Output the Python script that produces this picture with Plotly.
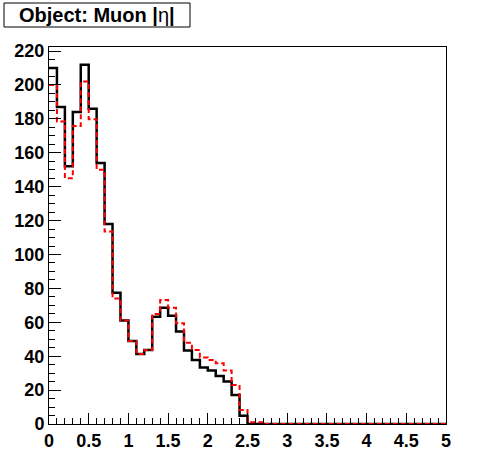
import plotly.graph_objects as go

bin_edges = [round(0.1 * i, 1) for i in range(51)]
black_vals = [210, 187, 152, 184, 212, 186, 154, 118, 77.5, 61,
              49, 41.3, 43.7, 63.3, 68.6, 63.9, 54.5, 43.3, 37.8, 33.4,
              31.5, 28.3, 25, 17.1, 4.9, 0, 0, 0, 0, 0,
              0, 0, 0, 0, 0, 0, 0, 0, 0, 0,
              0, 0, 0, 0, 0, 0, 0, 0, 0, 0]
red_vals = [200, 178.4, 145, 175.8, 202, 179.8, 150, 113.5, 74.1, 61,
            49, 41.3, 43.7, 64.9, 73.2, 68.6, 59.4, 48, 43.7, 39.3,
            37.8, 35.8, 31.5, 23, 8.3, 1, 1, 0, 0, 0,
            0, 0, 0, 0, 0, 0, 0, 0, 0, 0,
            0, 0, 0, 0, 0, 0, 0, 0, 0, 0]
x_tick_vals = [0, 0.5, 1, 1.5, 2, 2.5, 3, 3.5, 4, 4.5, 5]
x_tick_text = ["0", "0.5", "1", "1.5", "2", "2.5", "3", "3.5", "4", "4.5", "5"]
y_tick_vals = list(range(0, 221, 20))
title_text = "<b>Object: Muon |</b>η<b>|</b>"


def step(vals):
    xs = list(bin_edges)
    ys = list(vals) + [vals[-1]]
    return xs, ys


fig = go.Figure()
bx, by = step(black_vals)
fig.add_trace(go.Scatter(x=bx, y=by, mode="lines", line_shape="hv",
                         line=dict(color="black", width=2.5), showlegend=False))
rx, ry = step(red_vals)
fig.add_trace(go.Scatter(x=rx, y=ry, mode="lines", line_shape="hv",
                         line=dict(color="red", width=2, dash="5px,3px"), showlegend=False))

axis_font = dict(family="Liberation Sans", size=18, color="black")
fig.update_layout(
    width=496, height=472,
    margin=dict(l=49, r=50, t=47, b=48),
    paper_bgcolor="white", plot_bgcolor="white",
    font=dict(family="Liberation Sans", color="black"),
    xaxis=dict(range=[0, 5], tickvals=x_tick_vals, ticktext=["<b>%s</b>" % t for t in x_tick_text],
               ticks="inside", ticklen=11, tickcolor="black", tickwidth=1,
               minor=dict(ticks="inside", ticklen=6, dtick=0.1, tickcolor="black", tickwidth=1),
               showgrid=False, zeroline=False, showline=True, linecolor="black", linewidth=1,
               mirror=True, tickfont=axis_font, automargin=False),
    yaxis=dict(range=[0, 222.4], tickvals=y_tick_vals, ticktext=["<b>%d</b>" % v for v in y_tick_vals],
               ticks="inside", ticklen=12, tickcolor="black", tickwidth=1,
               minor=dict(ticks="inside", ticklen=6, dtick=5, tickcolor="black", tickwidth=1),
               showgrid=False, zeroline=False, showline=True, linecolor="black", linewidth=1,
               mirror=True, tickfont=axis_font, automargin=False),
)

# title box
W, H = 397.0, 377.0
def px_x(p):
    return (p - 49) / W
def px_y(p):
    return (424 - p) / H

fig.add_shape(type="rect", xref="paper", yref="paper",
              x0=px_x(4), x1=px_x(190), y0=px_y(27), y1=px_y(3),
              line=dict(color="black", width=1), fillcolor="white")
fig.add_annotation(xref="paper", yref="paper", x=px_x(97), y=px_y(15),
                   text=title_text, showarrow=False, xanchor="center", yanchor="middle",
                   font=dict(family="Liberation Sans", size=20, color="black"))

fig.write_html("out.html", config={"displayModeBar": False},
               post_script="document.body.style.margin='0';")
